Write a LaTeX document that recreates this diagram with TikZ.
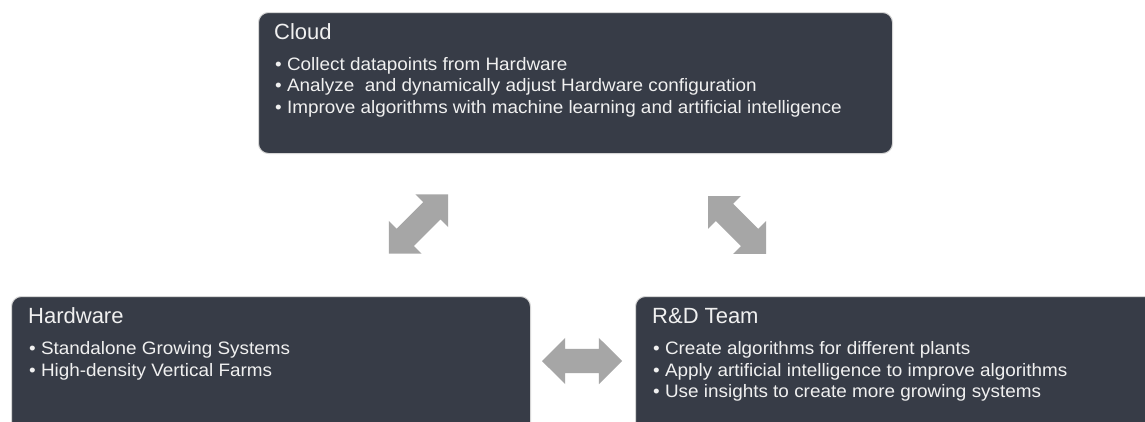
\documentclass[tikz,border=0pt]{standalone}
\usepackage{fontspec}
\setmainfont{Liberation Sans}
\newfontfamily\bodyfont[FakeStretch=1.05]{Liberation Sans}
\usetikzlibrary{shapes.arrows}
\definecolor{boxfill}{HTML}{373C47}
\definecolor{arrowgray}{HTML}{A6A6A6}
\definecolor{txt}{HTML}{F0F0F0}
\definecolor{edge}{HTML}{D6D6D6}
\begin{document}
\begin{tikzpicture}[x=1pt,y=-1pt,
  panel/.style={draw=edge, line width=1pt, fill=boxfill, rounded corners=10pt, anchor=north west, inner sep=0pt},
  ttl/.style={anchor=base west, text=txt, font=\fontsize{22}{26}\selectfont, inner sep=0pt},
  item/.style={anchor=base west, text=txt, font=\bodyfont\fontsize{18}{21}\selectfont, inner sep=0pt},
  barrow/.style={shape=double arrow, fill=arrowgray, inner sep=0pt, minimum width=46pt,
    double arrow head extend=11pt, double arrow tip angle=90}]
\clip (0,0) rectangle (1145,421);
\useasboundingbox (0,0) rectangle (1145,421);
\fill[white] (0,0) rectangle (1145,421);
% Cloud
\node[panel, minimum width=634pt, minimum height=141pt] (cloud) at (258,12) {};
\node[ttl] (cloudt) at (274,39.3) {Cloud};
\node[item] (cloud1) at (275,70) {\textbullet\ Collect datapoints from Hardware};
\node[item] (cloud2) at (275,91.5) {\textbullet\ Analyze~ and dynamically adjust Hardware configuration};
\node[item] (cloud3) at (275,113) {\textbullet\ Improve algorithms with machine learning and artificial intelligence};
% Hardware
\node[panel, minimum width=519pt, minimum height=145pt] (hw) at (11,296) {};
\node[ttl] (hwt) at (28,323.5) {Hardware};
\node[item] (hw1) at (29,354.5) {\textbullet\ Standalone Growing Systems};
\node[item] (hw2) at (29,376) {\textbullet\ High-density Vertical Farms};
% R&D
\node[panel, minimum width=530pt, minimum height=145pt] (rd) at (635,296) {};
\node[ttl] (rdt) at (652,323.5) {R\&D Team};
\node[item] (rd1) at (653,354.5) {\textbullet\ Create algorithms for different plants};
\node[item] (rd2) at (653,376) {\textbullet\ Apply artificial intelligence to improve algorithms};
\node[item] (rd3) at (653,397.5) {\textbullet\ Use insights to create more growing systems};
% arrows
\node[barrow, rotate=45, minimum height=84pt] (a1) at (418.5,224) {\rule{0pt}{24pt}};
\node[barrow, rotate=-45, minimum height=82pt] (a2) at (737,225) {\rule{0pt}{24pt}};
\node[barrow, minimum height=80pt] (a3) at (582,361) {\rule{0pt}{24pt}};
\end{tikzpicture}
\end{document}
